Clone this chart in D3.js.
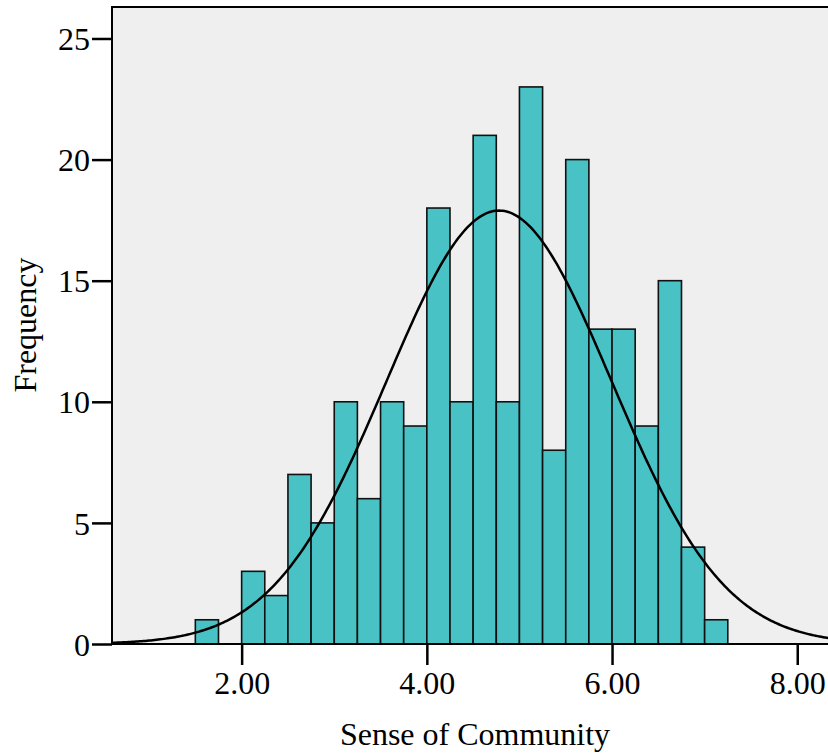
<!DOCTYPE html>
<head>
  <meta charset="UTF-8">
  <title>Histograma</title>
  <style>
    body { margin: 0; background: #fff; }
    text { font-family: "Liberation Serif", "Times New Roman", serif; }
  </style>
</head>
<body>
  <script src="https://d3js.org/d3.v7.min.js"></script>
  <script>
    // limites inferiores de cada intervalo (ancho 0.25)
    let binStarts = [1.5, 1.75, 2.0, 2.25, 2.5, 2.75, 3.0, 3.25, 3.5, 3.75, 4.0, 4.25,
                     4.5, 4.75, 5.0, 5.25, 5.5, 5.75, 6.0, 6.25, 6.5, 6.75, 7.0];
    let counts = [1, 0, 3, 2, 7, 5, 10, 6, 10, 9, 18, 10, 21, 10, 23, 8, 20, 13, 13, 9, 15, 4, 1];
    let binWidth = 0.25;
    let xTicks = [2, 4, 6, 8];
    let yTicks = [0, 5, 10, 15, 20, 25];
    // curva normal ajustada
    let mean = 4.78;
    let sd = 1.215;
    let n = d3.sum(counts);

    let width = 828, height = 753;
    let svg = d3.select('body').append('svg')
      .attr('width', width).attr('height', height);

    let x = d3.scaleLinear().domain([0.6, 8.4]).range([112, 112 + 7.8 * 92.6]);
    let y = d3.scaleLinear().domain([0, 26.3]).range([644, 7]);

    // fondo del area de graficos
    svg.append('rect')
      .attr('x', 112).attr('y', 7)
      .attr('width', width - 112 + 5).attr('height', 644 - 7)
      .attr('fill', '#efefef')
      .attr('stroke', 'black').attr('stroke-width', 2);

    let bins = binStarts.map((b, i) => ({ x0: b, x1: b + binWidth, c: counts[i] }))
      .filter(d => d.c > 0);

    svg.selectAll('rect.bar')
      .data(bins)
      .enter()
      .append('rect')
      .attr('class', 'bar')
      .attr('x', d => x(d.x0))
      .attr('y', d => y(d.c))
      .attr('width', d => x(d.x1) - x(d.x0))
      .attr('height', d => y(0) - y(d.c))
      .attr('fill', '#48c2c5')
      .attr('stroke', '#111')
      .attr('stroke-width', 1.6);

    // curva normal
    svg.append('clipPath').attr('id', 'clip')
      .append('rect').attr('x', 112).attr('y', 7).attr('width', width).attr('height', 637);
    let pts = d3.range(0.6, 8.45, 0.02).map(v => [v,
      n * binWidth / (sd * Math.sqrt(2 * Math.PI)) * Math.exp(-0.5 * Math.pow((v - mean) / sd, 2))]);
    svg.append('path')
      .datum(pts)
      .attr('clip-path', 'url(#clip)')
      .attr('fill', 'none')
      .attr('stroke', 'black')
      .attr('stroke-width', 2.5)
      .attr('d', d3.line().x(d => x(d[0])).y(d => y(d[1])));

    // linea base
    svg.append('line')
      .attr('x1', 112).attr('x2', width)
      .attr('y1', y(0)).attr('y2', y(0))
      .attr('stroke', 'black').attr('stroke-width', 2);

    // ejes
    let xAxis = svg.append('g')
      .attr('transform', 'translate(0,' + y(0) + ')')
      .call(d3.axisBottom(x).tickValues(xTicks).tickFormat(d3.format('.2f')).tickSize(21).tickPadding(6));
    let yAxis = svg.append('g')
      .attr('transform', 'translate(112,0)')
      .call(d3.axisLeft(y).tickValues(yTicks).tickSize(20).tickPadding(2));
    [xAxis, yAxis].forEach(g => {
      g.select('.domain').remove();
      g.selectAll('.tick line').attr('stroke', 'black').attr('stroke-width', 2.5);
      g.selectAll('.tick text')
        .attr('fill', 'black')
        .attr('font-size', '32px')
        .attr('font-family', '"Liberation Serif", serif');
    });
    yAxis.selectAll('.tick text').attr('dy', '0.35em');

    svg.append('text')
      .attr('x', 475).attr('y', 745)
      .attr('text-anchor', 'middle')
      .attr('font-size', '32px')
      .text('Sense of Community');

    svg.append('text')
      .attr('transform', 'translate(36,325) rotate(-90)')
      .attr('text-anchor', 'middle')
      .attr('font-size', '32px')
      .text('Frequency');
  </script>
</body>
</html>
